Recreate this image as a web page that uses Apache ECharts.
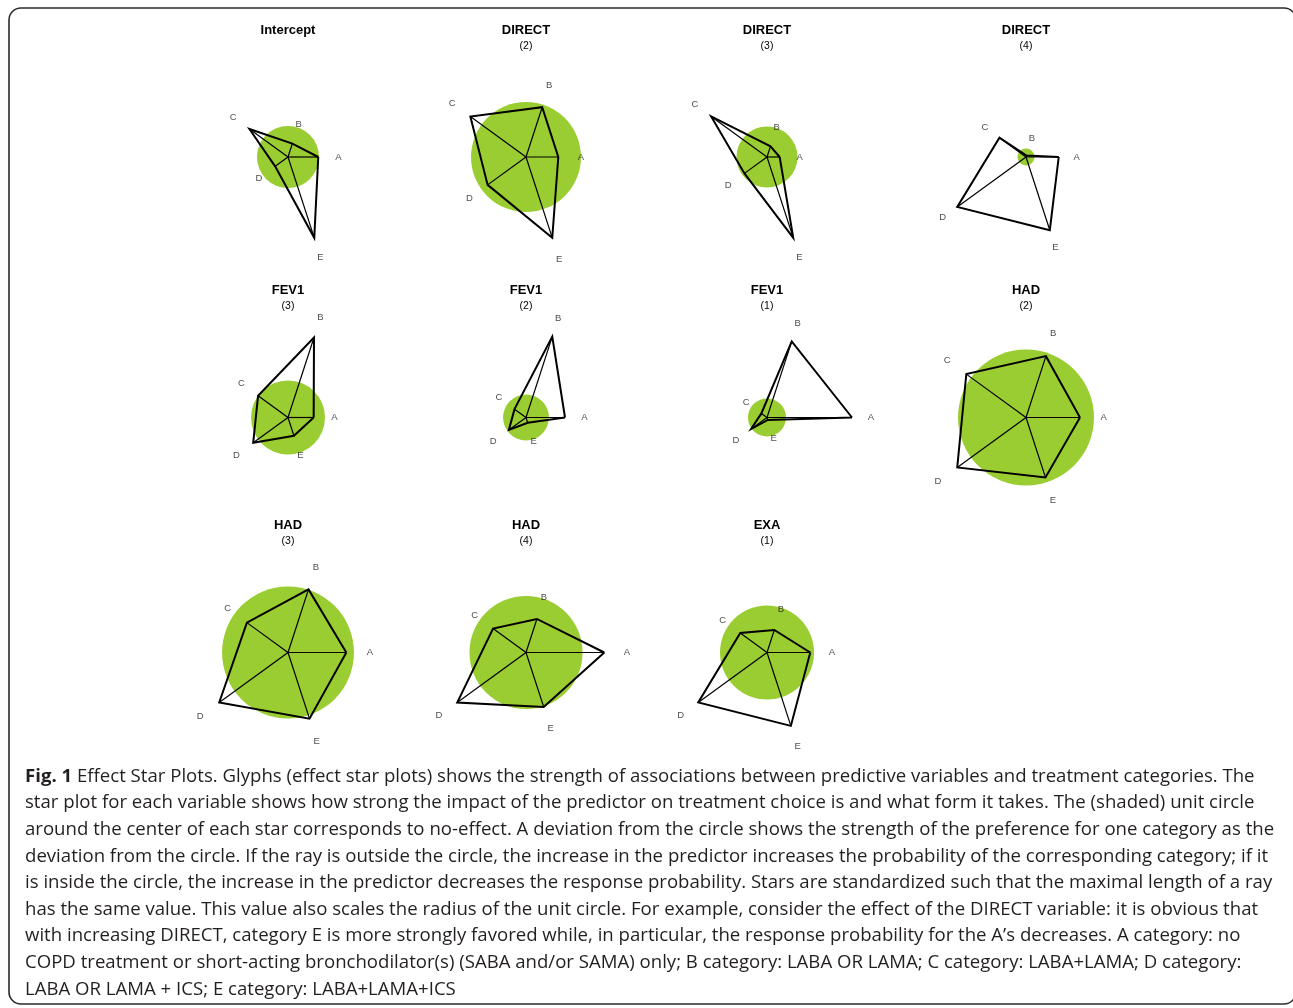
<!DOCTYPE html>
<html>
<head>
<meta charset="utf-8">
<title>Effect Star Plots</title>
<style>
  html, body { margin: 0; padding: 0; background: #ffffff; }
  #chart { width: 1293px; height: 1008px; }
</style>
<script src="https://cdn.jsdelivr.net/npm/echarts@6/dist/echarts.min.js"></script>
</head>
<body>
<div id="chart"></div>
<script>
// Treatment categories and the direction of each ray (degrees, counter-clockwise from east)
const categories = ['A', 'B', 'C', 'D', 'E'];
const rayAngles = [0, 72, 144, 216, 288];

// Glyph headings: predictor name and the category it is contrasted with
const starNames = ['Intercept', 'DIRECT', 'DIRECT', 'DIRECT', 'FEV1', 'FEV1', 'FEV1', 'HAD', 'HAD', 'HAD', 'EXA'];
const starLevels = ['', '(2)', '(3)', '(4)', '(3)', '(2)', '(1)', '(2)', '(3)', '(4)', '(1)'];

// Ray lengths for A..E, standardized so that the longest ray of each star is 1
const raysIntercept = [0.356, 0.165, 0.561, 0.187, 1.000];
const raysDirect2   = [0.380, 0.616, 0.809, 0.558, 1.000];
const raysDirect3   = [0.149, 0.132, 0.812, 0.328, 1.000];
const raysDirect4   = [0.385, 0.018, 0.386, 1.000, 0.906];
const raysFev1_3    = [0.302, 0.990, 0.435, 0.506, 0.226];
const raysFev1_2    = [0.459, 1.000, 0.167, 0.249, 0.065];
const raysFev1_1    = [1.000, 0.941, 0.082, 0.231, 0.030];
const raysHad2      = [0.635, 0.759, 0.868, 1.000, 0.741];
const raysHad3      = [0.686, 0.781, 0.598, 1.000, 0.818];
const raysHad4      = [0.921, 0.415, 0.479, 1.000, 0.673];
const raysExa1      = [0.509, 0.278, 0.389, 1.000, 0.908];

// Radius of the (no-effect) unit circle on the same standardized scale
const unitCircle = [0.365, 0.647, 0.359, 0.100, 0.435, 0.270, 0.224, 0.800, 0.776, 0.665, 0.553];

const starRays = [raysIntercept, raysDirect2, raysDirect3, raysDirect4,
                  raysFev1_3, raysFev1_2, raysFev1_1,
                  raysHad2, raysHad3, raysHad4, raysExa1];

const captionLines = [
  '{b|Fig. 1} Effect Star Plots. Glyphs (effect star plots) shows the strength of associations between predictive variables and treatment categories. The',
  'star plot for each variable shows how strong the impact of the predictor on treatment choice is and what form it takes. The (shaded) unit circle',
  'around the center of each star corresponds to no-effect. A deviation from the circle shows the strength of the preference for one category as the',
  'deviation from the circle. If the ray is outside the circle, the increase in the predictor increases the probability of the corresponding category; if it',
  'is inside the circle, the increase in the predictor decreases the response probability. Stars are standardized such that the maximal length of a ray',
  'has the same value. This value also scales the radius of the unit circle. For example, consider the effect of the DIRECT variable: it is obvious that',
  'with increasing DIRECT, category E is more strongly favored while, in particular, the response probability for the A\u2019s decreases. A category: no',
  'COPD treatment or short-acting bronchodilator(s) (SABA and/or SAMA) only; B category: LABA OR LAMA; C category: LABA+LAMA; D category:',
  'LABA OR LAMA + ICS; E category: LABA+LAMA+ICS'
];

// ---- layout ----
const COL_X = [288, 526, 767, 1026];
const ROW_Y = [157, 417.5, 652.5];
const TITLE_Y = [30, 290, 525];
const UNIT_PX = 85;        // pixel length of a ray of standardized length 1
const AXIS_MAX = 1.4;      // radius axis extent, leaves room for the letters
const GREEN = '#9ACD32';
const CAPTION_FONT = 18.6;

const polar = [], angleAxis = [], radiusAxis = [], series = [], graphic = [];

graphic.push({
  type: 'rect', silent: true, z: 0,
  shape: { x: 9, y: 8, width: 1287, height: 996, r: 12 },
  style: { fill: 'none', stroke: '#2b2b2b', lineWidth: 1.6 }
});

starRays.forEach((rays, i) => {
  const cx = COL_X[i % 4], cy = ROW_Y[Math.floor(i / 4)];
  const ty = TITLE_Y[Math.floor(i / 4)];

  polar.push({ center: [cx, cy], radius: UNIT_PX * AXIS_MAX });
  angleAxis.push({
    polarIndex: i, type: 'value', min: 0, max: 360, startAngle: 0, clockwise: false,
    show: false, axisLine: { show: false }, axisTick: { show: false },
    axisLabel: { show: false }, splitLine: { show: false }
  });
  radiusAxis.push({
    polarIndex: i, type: 'value', min: 0, max: AXIS_MAX,
    show: false, axisLine: { show: false }, axisTick: { show: false },
    axisLabel: { show: false }, splitLine: { show: false }
  });

  // shaded unit circle
  series.push({
    type: 'custom', coordinateSystem: 'polar', polarIndex: i, silent: true, clip: false, z: 1,
    data: [[unitCircle[i], 0]],
    renderItem: (params, api) => {
      const c = api.coord([0, 0]);
      const e = api.coord([api.value(0), 0]);
      return {
        type: 'circle',
        shape: { cx: c[0], cy: c[1], r: Math.hypot(e[0] - c[0], e[1] - c[1]) },
        style: { fill: GREEN }
      };
    }
  });

  // rays from the centre
  series.push({
    type: 'custom', coordinateSystem: 'polar', polarIndex: i, silent: true, clip: false, z: 2,
    data: rays.map((r, k) => [r, rayAngles[k]]),
    renderItem: (params, api) => {
      const a = api.value(1);
      const p0 = api.coord([0, a]);
      const p1 = api.coord([api.value(0), a]);
      return {
        type: 'line',
        shape: { x1: p0[0], y1: p0[1], x2: p1[0], y2: p1[1] },
        style: { stroke: '#000', lineWidth: 1.2 }
      };
    }
  });

  // star outline
  const outline = rays.map((r, k) => [r, rayAngles[k]]);
  outline.push([rays[0], 360]);
  series.push({
    type: 'line', coordinateSystem: 'polar', polarIndex: i, silent: true, clip: false, z: 3,
    data: outline, symbol: 'none', smooth: false,
    lineStyle: { color: '#000', width: 2, join: 'miter' }
  });

  // category letters just beyond each ray tip
  const off = (17 + 0.1 * unitCircle[i] * UNIT_PX) / UNIT_PX;
  series.push({
    type: 'scatter', coordinateSystem: 'polar', polarIndex: i, silent: true, clip: false, z: 4,
    symbolSize: 1, itemStyle: { color: 'rgba(0,0,0,0)' },
    data: rays.map((r, k) => ({ name: categories[k], value: [r + off, rayAngles[k]] })),
    label: {
      show: true, position: 'inside', formatter: '{b}',
      fontFamily: 'Liberation Sans, Arial, sans-serif', fontSize: 9.5, color: '#1a1a1a'
    }
  });

  // headings
  graphic.push({
    type: 'text', silent: true, z: 10,
    style: {
      text: starNames[i], x: cx, y: ty, align: 'center', verticalAlign: 'middle',
      font: 'bold 13px "Liberation Sans", Arial, sans-serif', fill: '#000'
    }
  });
  if (starLevels[i]) {
    graphic.push({
      type: 'text', silent: true, z: 10,
      style: {
        text: starLevels[i], x: cx, y: ty + 16.5, align: 'center', verticalAlign: 'middle',
        font: '10.5px "Liberation Sans", Arial, sans-serif', fill: '#000'
      }
    });
  }
});

captionLines.forEach((line, j) => {
  graphic.push({
    type: 'text', silent: true, z: 10,
    style: {
      text: line, x: 25, y: 776.5 + j * 26.6, align: 'left', verticalAlign: 'middle',
      font: CAPTION_FONT + 'px "Open Sans", "Noto Sans", sans-serif', fill: '#231f20',
      rich: { b: { fontWeight: 'bold', fontSize: CAPTION_FONT, fontFamily: '"Open Sans", "Noto Sans", sans-serif', fill: '#231f20' } }
    }
  });
});

const chart = echarts.init(document.getElementById('chart'), null, { renderer: 'canvas' });
chart.setOption({
  animation: false,
  backgroundColor: '#ffffff',
  polar, angleAxis, radiusAxis, series, graphic
});
</script>
</body>
</html>
